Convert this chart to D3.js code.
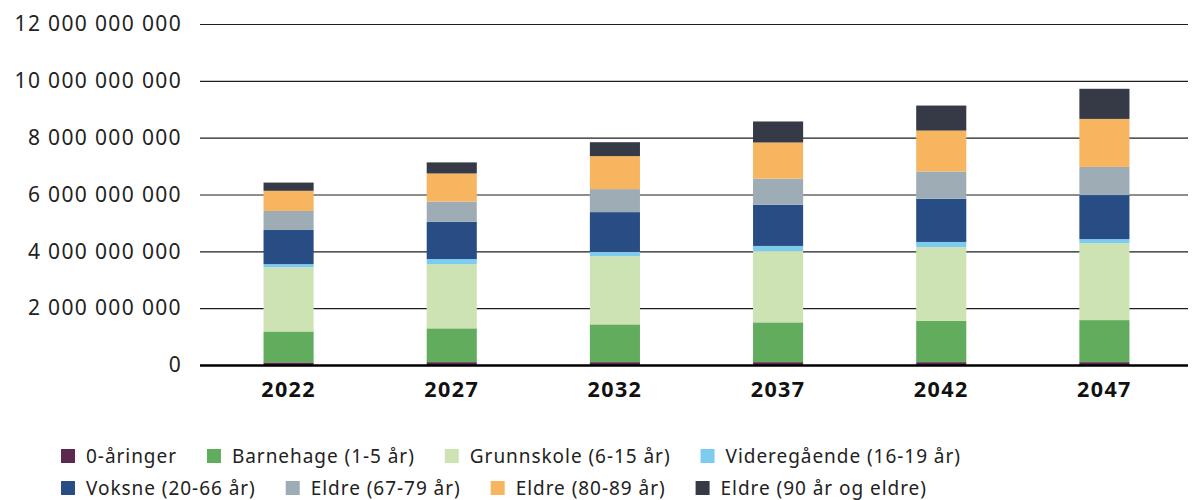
<!DOCTYPE html>
<html lang="no">
<head>
<meta charset="utf-8">
<title>Kostnader etter aldersgruppe</title>
<script src="https://d3js.org/d3.v7.min.js"></script>
<style>
  body { margin: 0; background: #fff; }
  svg { display: block; font-family: "Noto Sans", "Open Sans", sans-serif; }
  .ytick { font-size: 21px; letter-spacing: 1.35px; fill: #222; }
  .xtick { font-size: 21.5px; font-weight: bold; letter-spacing: 1.4px; fill: #111; }
  .legend text { font-size: 19px; letter-spacing: 0.95px; fill: #222; }
</style>
</head>
<body>
<div id="chart"></div>
<script>
// kategorier (år) og serier, verdier i kroner
var years = ["2022", "2027", "2032", "2037", "2042", "2047"];
var seriesNames = ["0-åringer", "Barnehage (1-5 år)", "Grunnskole (6-15 år)", "Videregående (16-19 år)",
                   "Voksne (20-66 år)", "Eldre (67-79 år)", "Eldre (80-89 år)", "Eldre (90 år og eldre)"];
var seriesColors = ["#5c2a50", "#62ac5e", "#cde3b4", "#7ecbf0", "#284d84", "#9eadb5", "#f7b560", "#363a46"];

var nullAaringer = [90e6, 100e6, 100e6, 100e6, 100e6, 100e6];
var barnehage    = [1.09e9, 1.19e9, 1.33e9, 1.40e9, 1.45e9, 1.48e9];
var grunnskole   = [2.26e9, 2.26e9, 2.40e9, 2.51e9, 2.60e9, 2.71e9];
var videregaende = [0.11e9, 0.18e9, 0.15e9, 0.18e9, 0.18e9, 0.14e9];
var voksne       = [1.20e9, 1.31e9, 1.40e9, 1.45e9, 1.52e9, 1.55e9];
var eldre6779    = [0.67e9, 0.71e9, 0.81e9, 0.92e9, 0.96e9, 0.99e9];
var eldre8089    = [0.71e9, 0.99e9, 1.16e9, 1.27e9, 1.44e9, 1.69e9];
var eldre90      = [0.29e9, 0.39e9, 0.49e9, 0.74e9, 0.88e9, 1.06e9];

var yTicks = [0, 2e9, 4e9, 6e9, 8e9, 10e9, 12e9];

var allSeries = [nullAaringer, barnehage, grunnskole, videregaende, voksne, eldre6779, eldre8089, eldre90];

// tabell for d3.stack
var rows = years.map(function(y, i) {
    var r = { year: y };
    seriesNames.forEach(function(n, j) { r[n] = allSeries[j][i]; });
    return r;
});

var width = 1192, height = 500;
var plotLeft = 200, plotRight = 1188, plotTop = 24, plotBottom = 365;

var svg = d3.select("#chart").append("svg")
    .attr("width", width)
    .attr("height", height);

var x = d3.scaleBand()
    .domain(years)
    .range([207, 1186])
    .paddingInner(0.693)
    .paddingOuter(0.3465);

var y = d3.scaleLinear()
    .domain([0, 12e9])
    .range([plotBottom, plotTop]);

var nb = d3.formatLocale({ decimal: ",", thousands: "\u00a0", grouping: [3], currency: ["", " kr"] });
var fmt = nb.format(",.0f");

// rutenett
var yAxis = d3.axisLeft(y)
    .tickValues(yTicks)
    .tickSize(-(plotRight - plotLeft))
    .tickPadding(18)
    .tickFormat(fmt);

var gy = svg.append("g")
    .attr("transform", "translate(" + plotLeft + ",0)")
    .call(yAxis)
    .attr("font-family", null)
    .attr("font-size", null);
gy.select(".domain").remove();
gy.selectAll(".tick line").attr("stroke", "#1e1e1e").attr("stroke-width", 1.2);
gy.selectAll(".tick text").attr("class", "ytick").attr("fill", null);

var stack = d3.stack().keys(seriesNames);
var layers = stack(rows);

svg.append("g").selectAll("g")
    .data(layers)
    .enter().append("g")
    .attr("fill", function(d, i) { return seriesColors[i]; })
    .selectAll("rect")
    .data(function(d) { return d; })
    .enter().append("rect")
    .attr("x", function(d) { return x(d.data.year); })
    .attr("width", x.bandwidth())
    .attr("y", function(d) { return y(d[1]); })
    .attr("height", function(d) { return y(d[0]) - y(d[1]); });

// nullinje
svg.append("line")
    .attr("x1", plotLeft).attr("x2", plotRight)
    .attr("y1", y(0) + 0.5).attr("y2", y(0) + 0.5)
    .attr("stroke", "#000").attr("stroke-width", 2.4);

// x-akse
var xAxis = d3.axisBottom(x).tickSize(0).tickPadding(17);
var gx = svg.append("g")
    .attr("transform", "translate(0," + plotBottom + ")")
    .call(xAxis)
    .attr("font-family", null)
    .attr("font-size", null);
gx.select(".domain").remove();
gx.selectAll(".tick text").attr("class", "xtick").attr("fill", null);

// forklaring
var legendRows = [seriesNames.slice(0, 4), seriesNames.slice(4)];
var legend = svg.append("g").attr("class", "legend");
legendRows.forEach(function(names, r) {
    var cx = 61;
    var cy = 456 + r * 32;
    names.forEach(function(n) {
        var idx = seriesNames.indexOf(n);
        var g = legend.append("g").attr("transform", "translate(" + cx + "," + cy + ")");
        g.append("rect")
            .attr("x", 0).attr("y", -7)
            .attr("width", 14).attr("height", 14)
            .attr("fill", seriesColors[idx]);
        var t = g.append("text")
            .attr("x", 25).attr("dy", "0.35em")
            .text(n);
        cx += 25 + t.node().getComputedTextLength() + 30;
    });
});
</script>
</body>
</html>
